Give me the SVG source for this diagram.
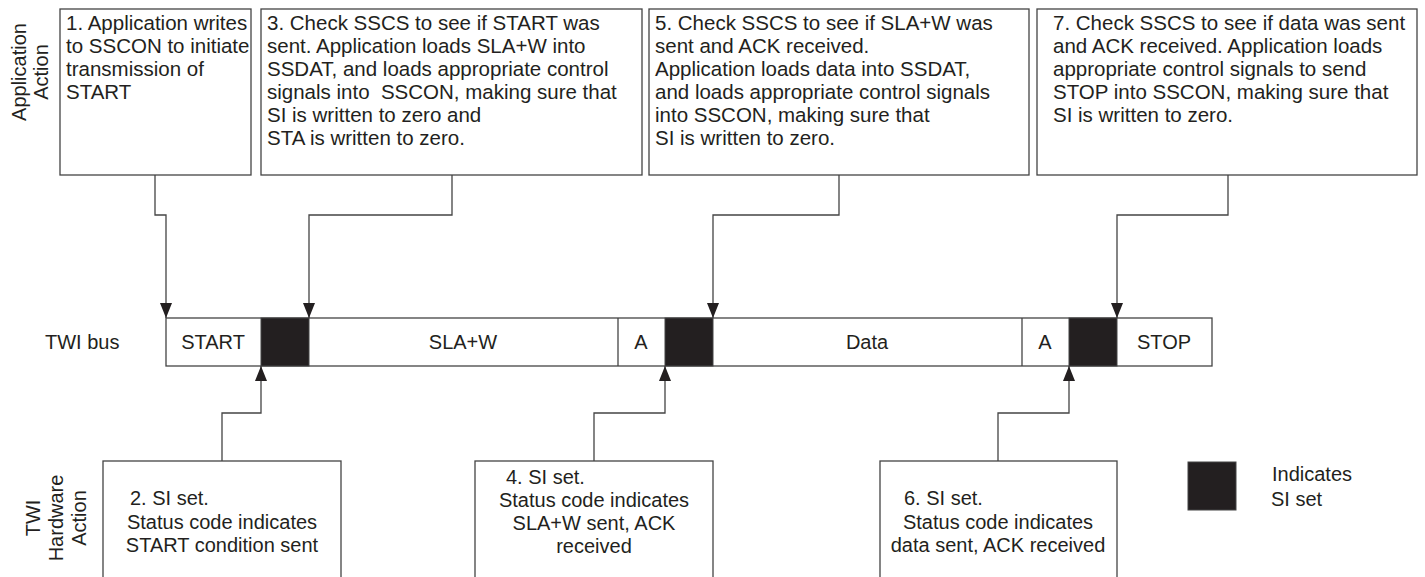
<svg xmlns="http://www.w3.org/2000/svg" width="1425" height="577" viewBox="0 0 1425 577">
<style>
text{font-family:"Liberation Sans",Arial,Helvetica,sans-serif;font-size:20px;fill:#231f20}
.top text{font-size:20.5px}
.box{fill:#fff;stroke:#444;stroke-width:1.3}
.blk{fill:#231f20;stroke:#444;stroke-width:1}
.cn{fill:none;stroke:#444;stroke-width:1.3}
.mid{text-anchor:middle}
</style>
<defs>
<marker id="arr" viewBox="0 0 15 12" refX="15" refY="6" markerWidth="15" markerHeight="12" markerUnits="userSpaceOnUse" orient="auto">
<path d="M0,0 L15,6 L0,12 Z" fill="#231f20"/>
</marker>
</defs>
<rect width="1425" height="577" fill="#fff"/>

<g id="lane-labels">
<text class="mid" transform="translate(26,72) rotate(-90)">Application</text>
<text class="mid" transform="translate(48,72) rotate(-90)">Action</text>
<text class="mid" transform="translate(40,518) rotate(-90)">TWI</text>
<text class="mid" transform="translate(63,518) rotate(-90)">Hardware</text>
<text class="mid" transform="translate(86,518) rotate(-90)">Action</text>
<text x="45" y="349">TWI bus</text>
</g>

<g id="step1" class="top">
<rect class="box" x="60" y="9" width="191" height="166"/>
<text x="66" y="30">1. Application writes</text>
<text x="66" y="53">to SSCON to initiate</text>
<text x="66" y="76">transmission of</text>
<text x="66" y="99">START</text>
</g>

<g id="step3" class="top">
<rect class="box" x="261" y="9" width="381" height="166"/>
<text x="267" y="30">3. Check SSCS to see if START was</text>
<text x="267" y="53">sent. Application loads SLA+W into</text>
<text x="267" y="76">SSDAT, and loads appropriate control</text>
<text x="267" y="99" xml:space="preserve">signals into  SSCON, making sure that</text>
<text x="267" y="122">SI is written to zero and</text>
<text x="267" y="145">STA is written to zero.</text>
</g>

<g id="step5" class="top">
<rect class="box" x="649" y="9" width="380" height="166"/>
<text x="655" y="30">5. Check SSCS to see if SLA+W was</text>
<text x="655" y="53">sent and ACK received.</text>
<text x="655" y="76">Application loads data into SSDAT,</text>
<text x="655" y="99">and loads appropriate control signals</text>
<text x="655" y="122">into SSCON, making sure that</text>
<text x="655" y="145">SI is written to zero.</text>
</g>

<g id="step7" class="top">
<rect class="box" x="1037" y="9" width="380" height="166"/>
<text x="1053" y="30">7. Check SSCS to see if data was sent</text>
<text x="1053" y="53">and ACK received. Application loads</text>
<text x="1053" y="76">appropriate control signals to send</text>
<text x="1053" y="99">STOP into SSCON, making sure that</text>
<text x="1053" y="122">SI is written to zero.</text>
</g>

<g id="bus">
<rect class="box" x="166" y="318" width="1046" height="48"/>
<line class="cn" x1="618" y1="318" x2="618" y2="366"/>
<line class="cn" x1="1022" y1="318" x2="1022" y2="366"/>
<rect class="blk" x="261" y="318" width="48" height="48"/>
<rect class="blk" x="665" y="318" width="48" height="48"/>
<rect class="blk" x="1069" y="318" width="48" height="48"/>
<text class="mid" x="213" y="349">START</text>
<text class="mid" x="463" y="349">SLA+W</text>
<text class="mid" x="641" y="349">A</text>
<text class="mid" x="867" y="349">Data</text>
<text class="mid" x="1045" y="349">A</text>
<text class="mid" x="1164" y="349">STOP</text>
</g>

<g id="step2">
<rect class="box" x="103" y="461" width="238" height="130"/>
<text x="130" y="505">2. SI set.</text>
<text class="mid" x="222" y="529">Status code indicates</text>
<text class="mid" x="222" y="552">START condition sent</text>
</g>

<g id="step4">
<rect class="box" x="475" y="461" width="238" height="130"/>
<text x="506" y="484">4. SI set.</text>
<text class="mid" x="594" y="507">Status code indicates</text>
<text class="mid" x="594" y="530">SLA+W sent, ACK</text>
<text class="mid" x="594" y="553">received</text>
</g>

<g id="step6">
<rect class="box" x="880" y="461" width="237" height="130"/>
<text x="904" y="505">6. SI set.</text>
<text class="mid" x="998" y="529">Status code indicates</text>
<text class="mid" x="998" y="552">data sent, ACK received</text>
</g>

<g id="legend">
<rect class="blk" x="1188" y="462" width="48" height="48"/>
<text x="1272" y="481">Indicates</text>
<text x="1271" y="506">SI set</text>
</g>

<g id="connectors">
<path class="cn" d="M155,175 V215 H166 V318" marker-end="url(#arr)"/>
<path class="cn" d="M452,175 V215 H309 V318" marker-end="url(#arr)"/>
<path class="cn" d="M839,175 V215 H713 V318" marker-end="url(#arr)"/>
<path class="cn" d="M1228,175 V215 H1117 V318" marker-end="url(#arr)"/>
<path class="cn" d="M222,461 V413 H261 V366" marker-end="url(#arr)"/>
<path class="cn" d="M594,461 V413 H665 V366" marker-end="url(#arr)"/>
<path class="cn" d="M998,461 V413 H1069 V366" marker-end="url(#arr)"/>
</g>
</svg>
